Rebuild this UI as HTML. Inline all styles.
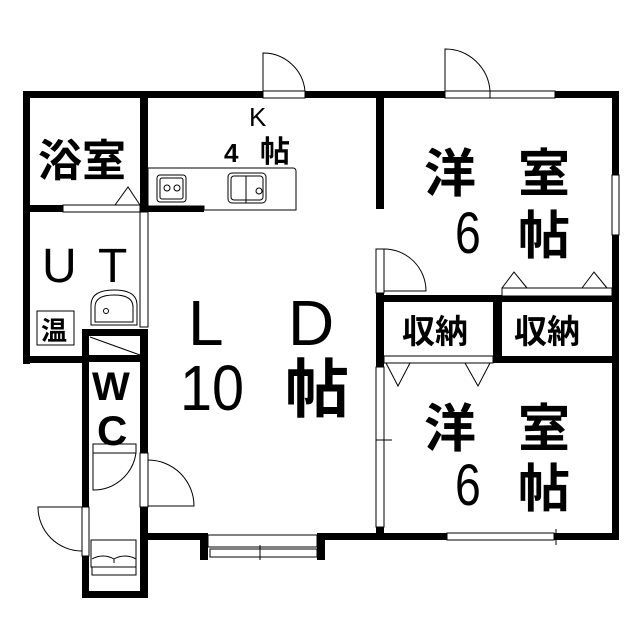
<!DOCTYPE html>
<html><head><meta charset="utf-8"><style>
html,body{margin:0;padding:0;background:#fff}
svg{display:block}
text{font-family:"Liberation Sans","Noto Sans CJK JP",sans-serif;fill:#000}
.j{font-family:"Noto Sans CJK JP",sans-serif;font-weight:700}
.n{font-family:"Liberation Sans",sans-serif}
</style></head><body>
<svg width="640" height="640" viewBox="0 0 640 640" xmlns="http://www.w3.org/2000/svg">
<g fill="#000" stroke="none">
<rect x="23" y="91" width="596" height="7"/>
<rect x="23" y="91" width="7" height="273"/>
<rect x="23" y="356" width="66" height="7"/>
<rect x="140" y="91" width="8" height="121"/>
<rect x="23" y="205" width="40" height="7"/>
<rect x="140" y="206" width="64" height="6"/>
<rect x="376" y="91" width="8" height="118"/>
<rect x="376" y="293" width="8" height="74"/>
<rect x="612" y="91" width="7" height="449"/>
<rect x="376" y="295" width="242" height="7"/>
<rect x="493" y="295" width="9" height="68"/>
<rect x="502" y="356" width="116" height="7"/>
<rect x="376" y="527" width="8" height="13"/>
<rect x="376" y="533" width="242" height="7"/>
<rect x="140" y="533" width="68" height="7"/>
<rect x="200" y="533" width="8" height="27"/>
<rect x="317" y="533" width="8" height="27"/>
<rect x="317" y="533" width="60" height="7"/>
<rect x="82" y="329" width="7" height="178"/>
<rect x="82" y="556" width="7" height="42"/>
<rect x="82" y="591" width="66" height="7"/>
<rect x="140" y="329" width="8" height="124"/>
<rect x="140" y="507" width="8" height="91"/>
<rect x="82" y="329" width="66" height="7"/>
<rect x="82" y="355" width="66" height="7"/>
</g>
<g fill="#fff" stroke="#000" stroke-width="1">
<rect x="263" y="91" width="42" height="7"/>
<rect x="445" y="91" width="45" height="7"/>
<rect x="490" y="91" width="65" height="7"/>
<rect x="612" y="175" width="7" height="60"/>
<rect x="63" y="205" width="77" height="7"/>
<rect x="140" y="212" width="8" height="115"/>
<rect x="384" y="356" width="109" height="7"/>
<rect x="502" y="288" width="110" height="8"/>
<rect x="376" y="367" width="8" height="160"/>
<rect x="447" y="533" width="107" height="7"/>
<rect x="208" y="535" width="109" height="12"/>
<rect x="210" y="549" width="107" height="8"/>
<rect x="376" y="249" width="8" height="44"/>
<path d="M148 168 H293 a3 3 0 0 1 3 3 V210 H204 V206 H148 Z"/>
<rect x="157" y="175" width="29" height="27" rx="3"/>
<rect x="160" y="178" width="23" height="21" rx="2"/>
<circle cx="167" cy="188" r="3"/><circle cx="177" cy="188" r="3"/>
<rect x="228" y="173" width="38" height="30" rx="4"/>
<rect x="231" y="176" width="32" height="24" rx="3"/>
<circle cx="259" cy="191" r="3"/>
<path d="M91 325 V305 Q91 290 114 290 Q137 290 137 305 V325 Z"/>
<path d="M95 322 V307 Q95 295 114 295 Q133 295 133 307 V322 Z"/>
<circle cx="106" cy="311" r="2.5"/>
<rect x="37" y="311" width="37" height="34"/>
<rect x="93" y="444" width="43" height="9"/>
<rect x="140" y="453" width="8" height="54"/>
<rect x="82" y="507" width="7" height="49"/>
<rect x="91" y="540" width="45" height="27"/>
<rect x="92" y="567" width="44" height="8"/>
</g>
<g fill="none" stroke="#000" stroke-width="1">
<path d="M263 91 V53 A42 42 0 0 1 305 91"/>
<path d="M445 91 V49 A45 45 0 0 1 490 91"/>
<path d="M384 249 H384 A42 42 0 0 1 426 291 H384"/>
<path d="M115 205 L128 187 L140 205 Z" fill="#fff"/>
<path d="M502 288 L514 272 L527 288 M582 288 L594 272 L607 288"/>
<path d="M386 363 L398 386 L410 363 M465 363 L478 386 L490 363"/>
<path d="M90 337 L140 355"/>
<path d="M93 453 V490 A43 43 0 0 0 136 453"/>
<path d="M148 460 A46 46 0 0 1 194 506 H148"/>
<path d="M82 507 H38 A44 44 0 0 0 82 551"/>
<path d="M92 559 A22 22 0 0 1 114 559 A22 22 0 0 1 136 559 M114 559 V563"/>
<path d="M246 176 V203 M556 529 V545 M260 545 V560 M376 440 H392"/>
</g>
<text class="j" x="38" y="176" font-size="44">浴室</text>
<text class="n" x="249" y="126" font-size="26">K</text>
<text class="n" x="224" y="162" font-size="26" font-weight="700">4</text>
<text class="j" x="260" y="162" font-size="30">帖</text>
<text class="n" x="42" y="282" font-size="48">U</text>
<text class="n" x="98" y="282" font-size="48">T</text>
<text class="j" x="41" y="340" font-size="26">温</text>
<text class="n" x="92" y="400" font-size="40" font-weight="700">W</text>
<text class="n" x="97" y="445" font-size="42" font-weight="700">C</text>
<text class="n" x="188" y="345" font-size="64">L</text>
<text class="n" x="288" y="345" font-size="64">D</text>
<text class="n" x="180" y="410" font-size="64" transform="translate(180 0) scale(0.9 1) translate(-180 0)">10</text>
<text class="j" x="285" y="412" font-size="64">帖</text>
<text class="j" x="424" y="192" font-size="52">洋</text>
<text class="j" x="518" y="192" font-size="52">室</text>
<text class="n" x="455" y="253" font-size="58" transform="translate(455 0) scale(0.8 1) translate(-455 0)">6</text>
<text class="j" x="518" y="254" font-size="52">帖</text>
<text class="j" x="402" y="343" font-size="33">収納</text>
<text class="j" x="514" y="343" font-size="33">収納</text>
<text class="j" x="424" y="447" font-size="52">洋</text>
<text class="j" x="518" y="447" font-size="52">室</text>
<text class="n" x="455" y="505" font-size="58" transform="translate(455 0) scale(0.8 1) translate(-455 0)">6</text>
<text class="j" x="518" y="507" font-size="52">帖</text>
</svg>
</body></html>
